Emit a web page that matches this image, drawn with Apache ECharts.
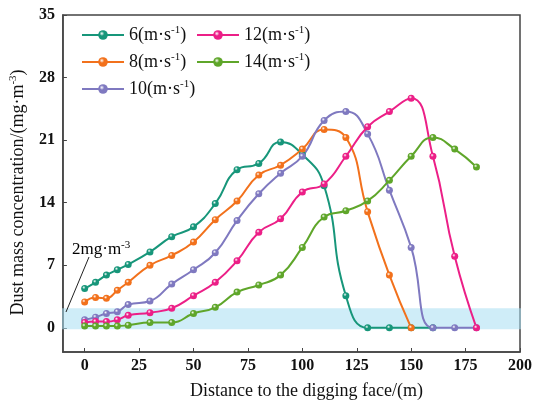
<!DOCTYPE html>
<html>
<head>
<meta charset="utf-8">
<script src="https://cdn.jsdelivr.net/npm/echarts@6/dist/echarts.min.js"></script>
<style>
  html, body { margin: 0; padding: 0; background: #fff; }
  #chart { width: 535px; height: 405px; }
</style>
</head>
<body>
<div id="chart"></div>
<script>
// distances along the tunnel (m)
var dist6  = [0,5,10,15,20,30,40,50,60,70,80,90,100,110,120,130,140,150,160];
var dist8  = [0,5,10,15,20,30,40,50,60,70,80,90,100,110,120,130,140,150];
var dist10 = [0,5,10,15,20,30,40,50,60,70,80,90,100,110,120,130,140,150,160,170,180];
var dist12 = [0,5,10,15,20,30,40,50,60,70,80,90,100,110,120,130,140,150,160,170,180];
var dist14 = [0,5,10,15,20,30,40,50,60,70,80,90,100,110,120,130,140,150,160,170,180];

// dust mass concentration (mg/m3)
var conc6  = [4.4,5.1,5.9,6.5,7.1,8.5,10.2,11.3,13.9,17.7,18.4,20.8,19.4,15.9,3.6,0,0,0,0];
var conc8  = [2.9,3.4,3.3,4.2,5.1,7.0,8.1,9.6,12.1,14.2,17.1,18.2,20.0,22.2,21.3,13.0,5.9,0];
var conc10 = [0.9,1.2,1.6,1.8,2.6,3.0,4.9,6.5,8.4,12.0,15.0,17.3,19.2,23.2,24.2,21.7,15.4,9.0,0,0,0];
var conc12 = [0.6,0.7,0.7,0.9,1.4,1.7,2.2,3.6,5.1,7.5,10.7,12.2,15.2,16.1,19.2,22.5,24.2,25.7,19.2,8.0,0];
var conc14 = [0.2,0.2,0.2,0.2,0.3,0.6,0.6,1.6,2.3,4.0,4.8,5.9,9.0,12.4,13.1,14.2,16.5,19.2,21.3,20.0,18.0];

var xTicks = [0,25,50,75,100,125,150,175,200];
var yTicks = [0,7,14,21,28,35];
var band = [-0.15, 2.2];

var speeds = ['6','8','10','12','14'];
var colors = ['#17967a','#f2711c','#7f79c0','#ec1f87','#5fa62a'];

function pairs(xs, ys){
  var out = [];
  for(var i=0;i<xs.length;i++){ out.push([xs[i], ys[i]]) }
  return out;
}

function ball(c){
  return {
    type: 'radial', x: 0.38, y: 0.35, r: 0.7,
    colorStops: [{offset: 0, color: '#ffffff'}, {offset: 0.35, color: c}, {offset: 1, color: c}]
  };
}

var allData = [pairs(dist6,conc6), pairs(dist8,conc8), pairs(dist10,conc10), pairs(dist12,conc12), pairs(dist14,conc14)];

var serif = 'Liberation Serif';
var series = [];
for(var k=0;k<speeds.length;k++){
  series.push({
    name: speeds[k],
    type: 'line',
    smooth: true,
    smoothConstraint: speeds[k] != '10',
    data: allData[k],
    symbol: 'circle',
    symbolSize: 7,
    showAllSymbol: true,
    lineStyle: { color: colors[k], width: 2 },
    itemStyle: { color: ball(colors[k]), borderWidth: 0 },
    emphasis: { disabled: true },
    z: 3
  });
}
// 2 mg/m3 band laid over the lines
series.push({
  type: 'line',
  data: [],
  silent: true,
  z: 10,
  markArea: {
    silent: true,
    itemStyle: { color: 'rgba(168,222,242,0.55)' },
    data: [[{ yAxis: band[0], x: 62 }, { yAxis: band[1], x: 521 }]]
  }
});

function supStyle(size){
  return {
    a: { fontFamily: serif, fontSize: size, color: '#111', lineHeight: 20 },
    s: { fontFamily: serif, fontSize: Math.round(size*0.62), color: '#111', verticalAlign: 'top', lineHeight: 12, padding: [0,0,9,0] }
  };
}

function legendFmt(name){ return '{a|' + name + '(m·s}{s|-1}{a|)}' }

var chart = echarts.init(document.getElementById('chart'), null, {renderer: 'canvas'});
chart.setOption({
  backgroundColor: '#fff',
  animation: false,
  grid: { left: 62, top: 15, right: 14, bottom: 53, show: true, borderColor: '#444', borderWidth: 1.5 },
  legend: [
    { data: ['6','8','10'], orient: 'vertical', left: 81, top: 25, padding: 0, itemWidth: 42, itemHeight: 12, itemGap: 7,
      formatter: legendFmt, textStyle: { rich: supStyle(18) } },
    { data: ['12','14'], orient: 'vertical', left: 196, top: 25, padding: 0, itemWidth: 42, itemHeight: 12, itemGap: 7,
      formatter: legendFmt, textStyle: { rich: supStyle(18) } }
  ],
  xAxis: {
    type: 'value', min: -10, max: 200,
    name: 'Distance to the digging face/(m)', nameLocation: 'middle', nameGap: 30,
    nameTextStyle: { fontFamily: serif, fontSize: 18, color: '#111', padding: [0,0,0,30] },
    axisLine: { show: true, onZero: false, lineStyle: { color: '#444', width: 1.5 } },
    axisTick: { show: true, inside: true, length: 4, customValues: xTicks, lineStyle: { color: '#444' } },
    axisLabel: { customValues: xTicks, fontFamily: serif, fontSize: 16, fontWeight: 'bold', color: '#111', margin: 6 },
    splitLine: { show: false }
  },
  yAxis: {
    type: 'value', min: -2.7, max: 35,
    name: '{a|Dust mass concentration/(mg·m}{s|-3}{a|)}', nameLocation: 'middle', nameGap: 10,
    nameTextStyle: { rich: supStyle(18), padding: [0,18,0,0] },
    axisLine: { show: true, onZero: false, lineStyle: { color: '#444', width: 1.5 } },
    axisTick: { show: true, inside: true, length: 4, customValues: yTicks, lineStyle: { color: '#444' } },
    axisLabel: { customValues: yTicks, fontFamily: serif, fontSize: 16, fontWeight: 'bold', color: '#111', margin: 8 },
    splitLine: { show: false }
  },
  graphic: [
    { type: 'line', shape: { x1: 89, y1: 257, x2: 66, y2: 312 }, style: { stroke: '#222', lineWidth: 1 }, z: 20 },
    { type: 'text', left: 72, top: 240, z: 20,
      style: { text: '{a|2mg·m}{s|-3}', rich: supStyle(17) } }
  ],
  series: series
});
</script>
</body>
</html>
